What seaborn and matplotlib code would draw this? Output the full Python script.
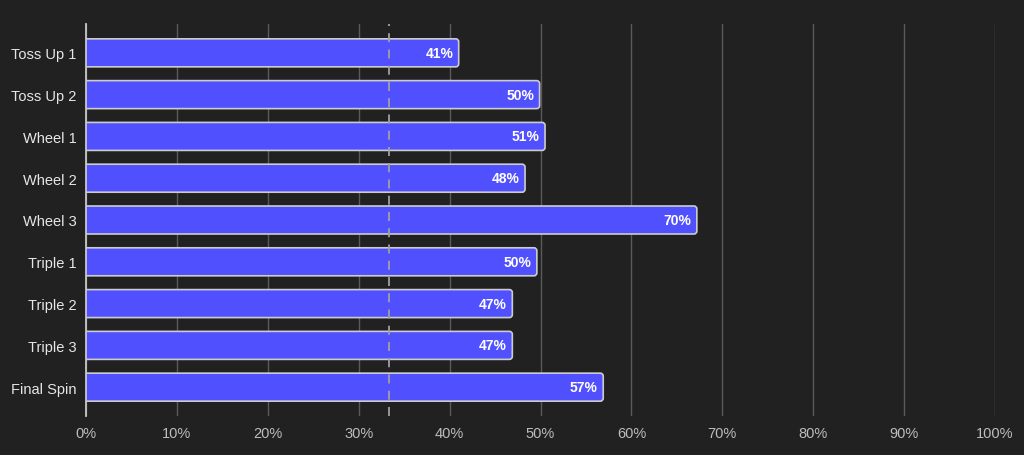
import matplotlib
matplotlib.use("Agg")
import matplotlib.pyplot as plt
from matplotlib.patches import FancyBboxPatch
import pandas as pd
import seaborn as sns

# ── data ─────────────────────────────────────────────────────────────────────
rounds = ["Toss Up 1", "Toss Up 2", "Wheel 1", "Wheel 2", "Wheel 3",
          "Triple 1", "Triple 2", "Triple 3", "Final Spin"]
pct_values = [41.0, 49.9, 50.5, 48.3, 67.2, 49.6, 46.9, 46.9, 56.9]
pct_labels = ["41%", "50%", "51%", "48%", "70%", "50%", "47%", "47%", "57%"]
baseline = 100 / 3
x_ticks = [0, 10, 20, 30, 40, 50, 60, 70, 80, 90, 100]

BG = "#212121"
BAR = "#5050ff"
EDGE = "#cccccc"

sns.set_theme(style="dark")
plt.rcParams["font.family"] = ["Liberation Sans", "DejaVu Sans"]

df = pd.DataFrame({"round": rounds, "pct": pct_values})

fig = plt.figure(figsize=(10.24, 4.56), dpi=100, facecolor=BG)
ax = fig.add_axes([86 / 1024, 39 / 456, 909 / 1024, 392 / 456])
ax.set_facecolor(BG)

sns.barplot(data=df, x="pct", y="round", color=BAR, saturation=1,
            width=0.67, ax=ax, zorder=3)

# swap the square bars for ones with rounded ends (left end clipped by axis)
px_x = 909 / 100
px_y = 392 / 9.38
for p in list(ax.patches):
    x0, y0, w, h = p.get_x(), p.get_y(), p.get_width(), p.get_height()
    p.set_visible(False)
    box = FancyBboxPatch((x0 - 1, y0), w + 1, h,
                         boxstyle=f"round,pad=0,rounding_size={3 / px_x}",
                         mutation_aspect=px_x / px_y,
                         facecolor=BAR, edgecolor=EDGE, lw=1.2, zorder=3)
    ax.add_patch(box)
    ax.text(x0 + w - 0.6, y0 + h / 2, pct_labels[len(ax.texts)],
            ha="right", va="center", color="white", fontsize=10,
            fontweight="bold", zorder=5)

ax.axvline(baseline, color="#a0a0a0", ls=(0, (5, 4)), lw=1.3, zorder=4)

ax.set_xlim(0, 100)
ax.set_ylim(8.69, -0.69)
ax.set_xticks(x_ticks)
ax.set_xticklabels([f"{t}%" for t in x_ticks])
ax.grid(axis="x", color="#5a5a5a", lw=1, zorder=0)
ax.grid(axis="y", visible=False)

for s in ["top", "right", "bottom"]:
    ax.spines[s].set_visible(False)
ax.spines["left"].set_color("#c8c8c8")
ax.spines["left"].set_linewidth(1.3)
ax.spines["left"].set_zorder(6)

ax.tick_params(axis="x", length=0, labelcolor="#bdbdbd", labelsize=10.5, pad=7)
ax.tick_params(axis="y", length=0, labelcolor="#e6e6e6", labelsize=10.5, pad=7)
ax.set_xlabel("")
ax.set_ylabel("")

fig.savefig("out.png", dpi=100, facecolor=BG)
